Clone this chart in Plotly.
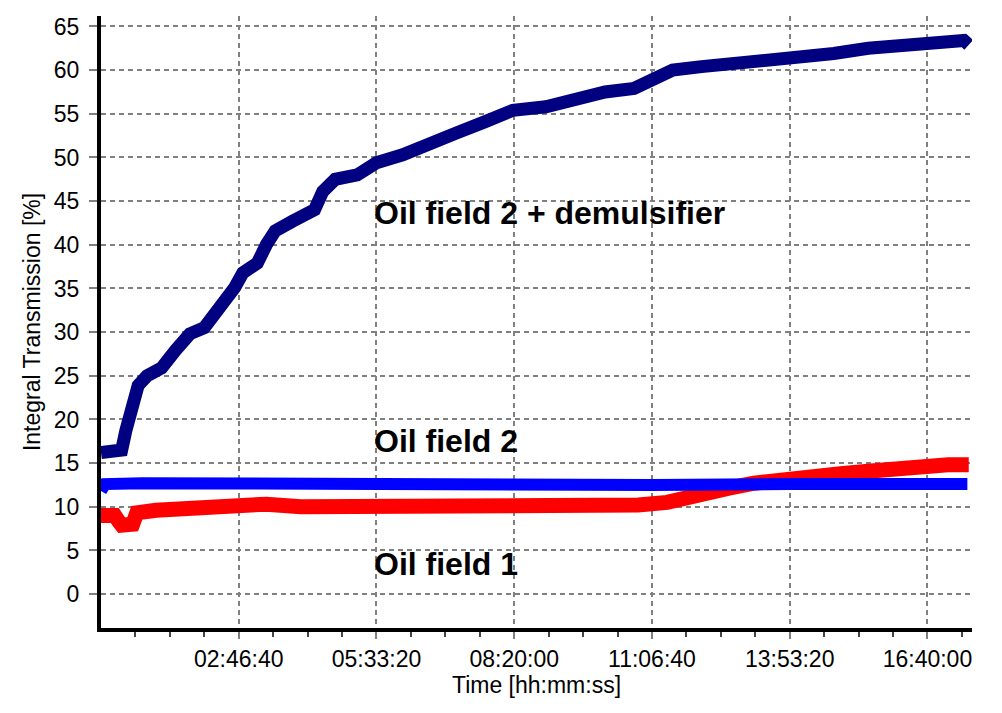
import plotly.graph_objects as go

# ---- data (time in seconds, transmission in %) ----
demuls_t = [0, 1500, 1800, 2200, 2700, 3350, 4400, 5400, 6450, 7500, 8250, 9300, 9700,
            10300, 11350, 12000, 12650, 13900, 15500, 16100, 17000, 18600, 20000, 21900,
            23700, 25800, 27900, 29900, 32300, 34300, 36600, 38700, 39700, 40700, 41500,
            43600, 45700, 47200, 50100, 53200, 55700, 58100, 60000, 61700, 62650, 63000]
demuls_v = [16.2, 16.5, 18.7, 21.4, 23.9, 25.0, 25.9, 27.9, 29.8, 30.5, 32.0, 33.8, 35.1,
            36.8, 37.9, 40.0, 41.6, 42.7, 44.0, 46.1, 47.5, 48.0, 49.4, 50.3,
            51.3, 52.8, 54.1, 55.4, 55.8, 56.6, 57.5, 57.9, 58.7, 59.6, 60.0,
            60.4, 60.7, 60.8, 61.1, 61.9, 62.5, 62.7, 62.9, 63.2, 63.4, 62.9]

field2_t = [0, 300, 3000, 10000, 20000, 30000, 40000, 50000, 60000, 62900]
field2_v = [11.8, 12.6, 12.7, 12.6, 12.5, 12.5, 12.5, 12.6, 12.6, 12.6]

field1_t = [0, 1000, 1300, 1500, 2300, 2600, 4000, 6500, 9000, 12000, 14500, 20000,
            25000, 30000, 35000, 39000, 41100, 43000, 45500, 47400, 50100, 51000,
            53700, 55900, 58100, 59300, 61500, 63000]
field1_v = [9.0, 9.0, 8.3, 7.9, 8.0, 9.3, 9.6, 9.9, 10.1, 10.3, 10.0, 10.0,
            10.1, 10.1, 10.2, 10.2, 10.5, 11.3, 12.1, 12.7, 13.0, 13.4,
            13.8, 14.1, 14.5, 14.6, 14.8, 14.8]

x_tickvals = [10000, 20000, 30000, 40000, 50000, 60000]
x_ticktext = ["02:46:40", "05:33:20", "08:20:00", "11:06:40", "13:53:20", "16:40:00"]
x_minor = [v for v in range(2500, 63000, 2500) if v % 10000 != 0]
y_tickvals = list(range(0, 70, 5))

labels = ["Oil field 2 + demulsifier", "Oil field 2", "Oil field 1"]
label_x = [19700, 19700, 19700]
label_y = [43.6, 17.5, 3.5]

FONT = "Liberation Sans, Arial, sans-serif"
GRID = "#808080"

fig = go.Figure()
fig.add_trace(go.Scatter(x=field1_t, y=field1_v, mode="lines",
                         line=dict(color="#FF0000", width=15), name="Oil field 1"))
fig.add_trace(go.Scatter(x=field2_t, y=field2_v, mode="lines",
                         line=dict(color="#0000FF", width=12), name="Oil field 2"))
fig.add_trace(go.Scatter(x=demuls_t, y=demuls_v, mode="lines",
                         line=dict(color="#000080", width=13), name="Oil field 2 + demulsifier"))

for txt, lx, ly in zip(labels, label_x, label_y):
    fig.add_annotation(x=lx, y=ly, text=txt, showarrow=False, xanchor="left", yanchor="middle",
                       font=dict(family=FONT, size=32, color="black", weight="bold"))

fig.update_layout(
    width=994, height=705,
    margin=dict(l=93, r=30, t=6, b=85),
    paper_bgcolor="white", plot_bgcolor="white",
    showlegend=False,
    font=dict(family=FONT, size=22, color="black"),
    xaxis=dict(
        range=[0, 63236],
        tickmode="array", tickvals=x_tickvals, ticktext=x_ticktext,
        ticks="outside", ticklen=7, tickcolor=GRID, tickwidth=1.5,
        showgrid=True, gridcolor=GRID, griddash="5px,4px", gridwidth=1.5,
        showline=True, linecolor="black", linewidth=4,
        zeroline=False,
        minor=dict(tickmode="array", tickvals=x_minor, ticks="outside", ticklen=5,
                   tickcolor="#444444", tickwidth=1.5, showgrid=False),
        tickfont=dict(size=23),
        title=dict(text="Time [hh:mm:ss]", font=dict(size=23), standoff=0),
    ),
    yaxis=dict(
        range=[-3.88, 66.2],
        tickmode="array", tickvals=y_tickvals,
        ticks="outside", ticklen=8, tickcolor=GRID, tickwidth=1.5,
        showgrid=True, gridcolor=GRID, griddash="5px,4px", gridwidth=1.5,
        showline=True, linecolor="black", linewidth=4,
        zeroline=False,
        ticklabelstandoff=5,
        tickfont=dict(size=23),
        title=dict(text="Integral Transmission [%]", font=dict(size=23), standoff=8),
    ),
)

fig.write_html("out.html")
